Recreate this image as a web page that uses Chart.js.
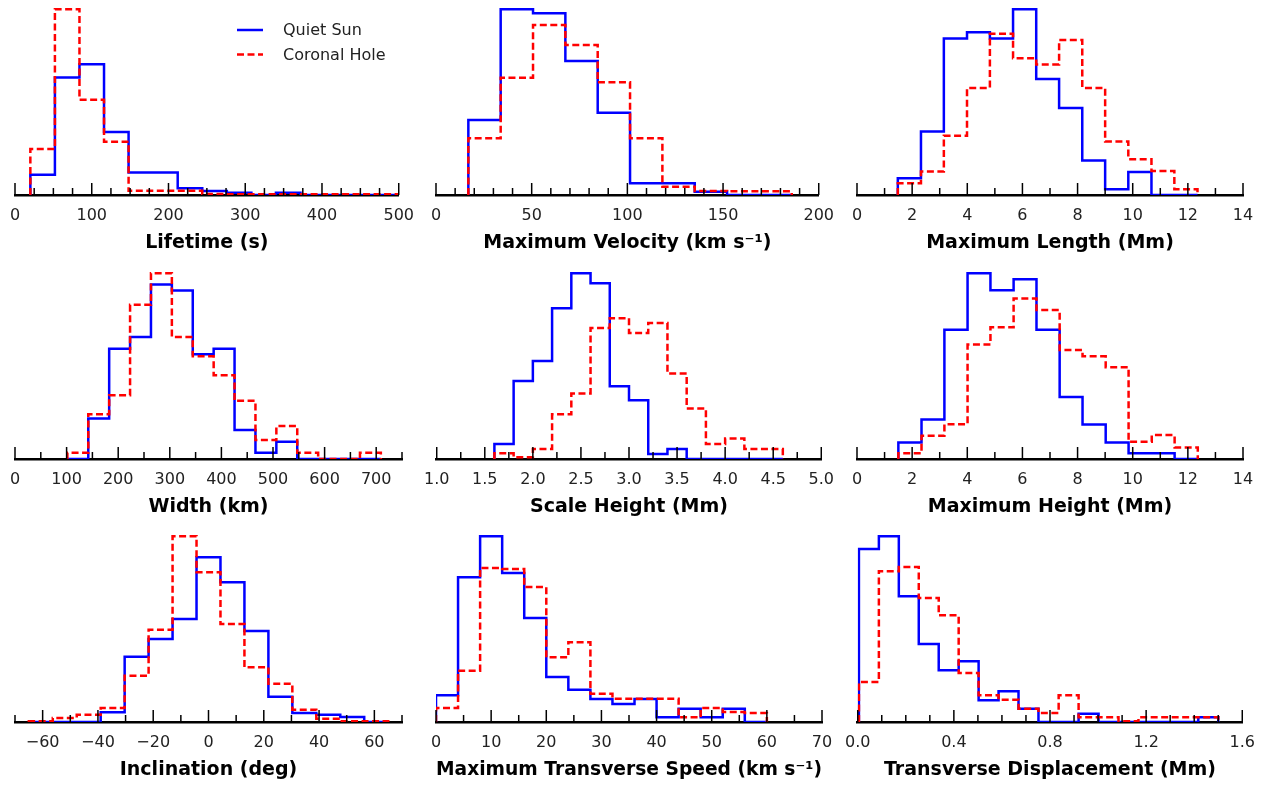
<!DOCTYPE html>
<html>
<head>
<meta charset="utf-8">
<script src="https://cdn.jsdelivr.net/npm/chart.js@4.4.1/dist/chart.umd.min.js"></script>
<style>
html,body{margin:0;padding:0;background:#fff;width:1270px;height:791px;overflow:hidden;position:relative;}
.cell{position:absolute;}
</style>
</head>
<body>
<script>
// ---------------- DATA ----------------
const seriesLabels = ['Quiet Sun', 'Coronal Hole'];

const lifetimeEdges   = [20, 52, 84, 116, 148, 180, 212, 244, 276, 308, 340, 372, 404, 436, 468, 500];
const lifetimeQuiet   = [12, 69.8, 77.8, 37.4, 13.4, 13.4, 4, 2.4, 1.4, 0, 1.4, 0, 0, 0, 0];
const lifetimeCoronal = [27.4, 110.4, 56.6, 31.6, 2.6, 2.6, 2.6, 0.6, 0.4, 0.4, 0.4, 0.4, 0.4, 0.4, 0.4];

const velocityEdges   = [16.9, 33.8, 50.7, 67.6, 84.5, 101.4, 118.3, 135.2, 152.1, 169.0, 185.9];
const velocityQuiet   = [45, 111.4, 109, 80.4, 49.4, 7, 7, 2, 0, 0];
const velocityCoronal = [34, 70.4, 102, 90, 67.6, 34, 5, 2.4, 2.2, 2.2];

const lengthEdges   = [1.48, 2.32, 3.15, 3.99, 4.82, 5.66, 6.50, 7.33, 8.17, 9.00, 9.84, 10.68, 11.51, 12.35];
const lengthQuiet   = [10, 38, 93.6, 97.2, 93.6, 111, 69.4, 52, 20.6, 3.4, 13.8, 0, 0];
const lengthCoronal = [7, 14, 35.4, 64, 96.4, 81.8, 78, 92.6, 64, 32, 21.4, 14.4, 3.4];

const widthEdges   = [101.5, 142, 182.5, 223, 263.5, 304, 344.5, 385, 425.5, 466, 506.5, 547, 587.5, 628, 668.5, 709];
const widthQuiet   = [0, 24.4, 66.4, 73.4, 105, 101.4, 63, 66.4, 17.4, 3.8, 10.4, 0, 0, 0, 0];
const widthCoronal = [3.8, 27, 38.4, 92.8, 111.8, 73.4, 61.8, 50.4, 35, 11.4, 19.8, 3.8, 0, 0, 3.8];

const scaleEdges   = [1.6, 1.8, 2.0, 2.2, 2.4, 2.6, 2.8, 3.0, 3.2, 3.4, 3.6, 3.8, 4.0, 4.2, 4.4, 4.6];
const scaleQuiet   = [9, 47, 59, 90.8, 111.8, 105.8, 43.8, 35.4, 3, 6, 0, 0, 0, 0, 0];
const scaleCoronal = [3.4, 1, 6, 27, 39.4, 78.8, 84.8, 75.8, 81.8, 51.4, 30.4, 9, 12.4, 6, 6];

const heightEdges   = [1.5, 2.34, 3.17, 4.01, 4.84, 5.68, 6.51, 7.35, 8.18, 9.02, 9.85, 10.69, 11.52, 12.36];
const heightQuiet   = [10, 23.8, 78, 112, 101.8, 108.4, 78, 37.4, 20.8, 10, 3.4, 3.4, 0];
const heightCoronal = [3.4, 14, 21, 69, 79.4, 96.8, 89.8, 65.8, 62, 55.4, 10.4, 14.4, 7];

const inclEdges   = [-65, -56.33, -47.67, -39, -30.33, -21.67, -13, -4.33, 4.33, 13, 21.67, 30.33, 39, 47.67, 56.33, 65];
const inclQuiet   = [0, 0, 0, 5.8, 39.2, 49.8, 61.8, 98.8, 83.8, 54.6, 15.2, 5.4, 4.4, 3, 0];
const inclCoronal = [0.4, 2.4, 4.4, 8.4, 27.8, 55.4, 111.4, 89.8, 58.8, 32.8, 23, 7.4, 2, 0.4, 0.4];

const speedEdges   = [0, 4, 8, 12, 16, 20, 24, 28, 32, 36, 40, 44, 48, 52, 56, 60];
const speedQuiet   = [16, 86.8, 111.4, 89.4, 62.4, 27, 19.4, 13.8, 10.8, 13.8, 2.8, 8, 2.8, 8, 0];
const speedCoronal = [8.4, 30.8, 92.4, 91.8, 81, 38.8, 47.8, 17, 14, 14, 14, 2.8, 8.4, 6, 5.4];

const dispEdges   = [0.005, 0.088, 0.171, 0.254, 0.337, 0.420, 0.503, 0.586, 0.669, 0.752, 0.836, 0.919, 1.002, 1.085, 1.168, 1.251, 1.334, 1.417, 1.500];
const dispQuiet   = [103.8, 111.4, 75.4, 46.8, 31, 36.4, 13, 18.4, 8, 0, 0, 5, 0, 0, 0, 0, 0, 2.8];
const dispCoronal = [24, 90.4, 93, 74.4, 64, 29.4, 16, 13.4, 8, 5.4, 16, 2.8, 2.8, 0.4, 2.8, 2.8, 2.8, 2.8];

const axisTitles = ['Lifetime (s)', 'Maximum Velocity (km s\u207B\u00B9)', 'Maximum Length (Mm)',
                    'Width (km)', 'Scale Height (Mm)', 'Maximum Height (Mm)',
                    'Inclination (deg)', 'Maximum Transverse Speed (km s\u207B\u00B9)', 'Transverse Displacement (Mm)'];
const axisMin   = [0, 0, 0, 0, 1.0, 0, -70, 0, 0];
const axisMax   = [500, 200, 14, 750, 5.0, 14, 70, 70, 1.6];
const majorStep = [100, 50, 2, 100, 0.5, 2, 20, 10, 0.4];
const minorStep = [25, 10, 1, 50, 0.25, 1, 10, 5, 0.1];
const labelDecimals = [0, 0, 0, 0, 1, 0, 0, 0, 1];

const allEdges   = [lifetimeEdges, velocityEdges, lengthEdges, widthEdges, scaleEdges, heightEdges, inclEdges, speedEdges, dispEdges];
const allQuiet   = [lifetimeQuiet, velocityQuiet, lengthQuiet, widthQuiet, scaleQuiet, heightQuiet, inclQuiet, speedQuiet, dispQuiet];
const allCoronal = [lifetimeCoronal, velocityCoronal, lengthCoronal, widthCoronal, scaleCoronal, heightCoronal, inclCoronal, speedCoronal, dispCoronal];

// ---------------- LAYOUT / STYLE ----------------
const colLeft = [15, 436, 857];
const colWidth = [387, 386, 386];
const rowTop = [0, 264, 527];
const plotH = 195;
const axisH = 61;
const padLR = 25;
const FONT = "'DejaVu Sans', sans-serif";
const QS_COLOR = '#0000ff';
const CH_COLOR = '#ff0000';
const CH_DASH = [7, 3.5];

Chart.defaults.font.family = FONT;
Chart.defaults.color = '#222';

function stepPoints(edges, vals) {
  const pts = [{x: edges[0], y: 0}];
  for (let i = 0; i < vals.length; i++) {
    pts.push({x: edges[i], y: vals[i]});
    pts.push({x: edges[i + 1], y: vals[i]});
  }
  pts.push({x: edges[vals.length], y: 0});
  return pts;
}

const tickMarks = {
  id: 'tickMarks',
  afterDraw(chart, args, o) {
    const sc = chart.scales.x, ctx = chart.ctx, y0 = chart.chartArea.bottom;
    ctx.save();
    ctx.strokeStyle = '#000';
    ctx.lineWidth = 1.5;
    const n = Math.round((o.max - o.min) / o.minor);
    for (let i = 0; i <= n; i++) {
      const v = o.min + i * o.minor;
      const r = v / o.major;
      const isMajor = Math.abs(r - Math.round(r)) < 1e-6;
      const px = sc.getPixelForValue(v);
      ctx.beginPath();
      ctx.moveTo(px, y0);
      ctx.lineTo(px, y0 - (isMajor ? 12 : 7));
      ctx.stroke();
    }
    ctx.restore();
  }
};

const stepLegend = {
  id: 'stepLegend',
  afterDraw(chart, args, o) {
    if (!o.show) return;
    const ctx = chart.ctx, L = chart.chartArea.left, T = chart.chartArea.top;
    ctx.save();
    chart.data.datasets.forEach((ds, i) => {
      const y = T + 30 + i * 24.5;
      ctx.beginPath();
      ctx.strokeStyle = ds.borderColor;
      ctx.lineWidth = ds.borderWidth;
      ctx.setLineDash(ds.borderDash || []);
      ctx.moveTo(L + 222, y);
      ctx.lineTo(L + 248, y);
      ctx.stroke();
      ctx.setLineDash([]);
      ctx.fillStyle = '#222';
      ctx.font = "16px " + FONT;
      ctx.textBaseline = 'middle';
      ctx.fillText(ds.label, L + 268, y + 1);
    });
    ctx.restore();
  }
};

for (let p = 0; p < 9; p++) {
  const r = Math.floor(p / 3), c = p % 3;
  const div = document.createElement('div');
  div.className = 'cell';
  div.style.left = (colLeft[c] - padLR) + 'px';
  div.style.top = rowTop[r] + 'px';
  div.style.width = (colWidth[c] + 2 * padLR) + 'px';
  div.style.height = (plotH + axisH) + 'px';
  const cv = document.createElement('canvas');
  div.appendChild(cv);
  document.body.appendChild(div);

  const ymax = 1.05 * Math.max(...allQuiet[p], ...allCoronal[p]);
  const mn = axisMin[p], mx = axisMax[p], mj = majorStep[p], dec = labelDecimals[p];

  new Chart(cv, {
    type: 'line',
    data: {
      datasets: [
        {label: seriesLabels[0], data: stepPoints(allEdges[p], allQuiet[p]),
         borderColor: QS_COLOR, borderWidth: 2.5, pointRadius: 0, fill: false, order: 1,
         borderJoinStyle: 'miter', borderCapStyle: 'butt'},
        {label: seriesLabels[1], data: stepPoints(allEdges[p], allCoronal[p]),
         borderColor: CH_COLOR, borderWidth: 2.5, borderDash: CH_DASH, pointRadius: 0, fill: false, order: 0,
         borderJoinStyle: 'miter', borderCapStyle: 'butt'}
      ]
    },
    options: {
      responsive: true,
      maintainAspectRatio: false,
      animation: false,
      events: [],
      layout: {padding: {left: padLR, right: padLR, top: 0, bottom: 0}},
      plugins: {
        legend: {display: false},
        tooltip: {enabled: false},
        tickMarks: {min: mn, max: mx, major: mj, minor: minorStep[p]},
        stepLegend: {show: p === 0}
      },
      scales: {
        x: {
          type: 'linear', min: mn, max: mx, z: 1,
          grid: {display: false, drawTicks: false},
          border: {display: true, color: '#000', width: 2.5},
          afterBuildTicks: (scale) => {
            const t = [];
            const start = Math.ceil(mn / mj - 1e-9);
            for (let k = start; k * mj <= mx + 1e-9; k++) t.push({value: k * mj});
            scale.ticks = t;
          },
          ticks: {
            autoSkip: false, maxRotation: 0, padding: 13,
            font: {size: 16, lineHeight: 1},
            color: '#222',
            callback: (v) => {
              const s = Number(v).toFixed(dec);
              return s.startsWith('-') ? '\u2212' + s.slice(1) : s;
            }
          },
          title: {
            display: true, text: axisTitles[p], color: '#000',
            font: {size: 19, weight: 'bold', lineHeight: 1},
            padding: {top: -3.5, bottom: 3.5}
          }
        },
        y: {display: false, min: 0, max: ymax}
      }
    },
    plugins: [tickMarks, stepLegend]
  });
}
</script>
</body>
</html>
